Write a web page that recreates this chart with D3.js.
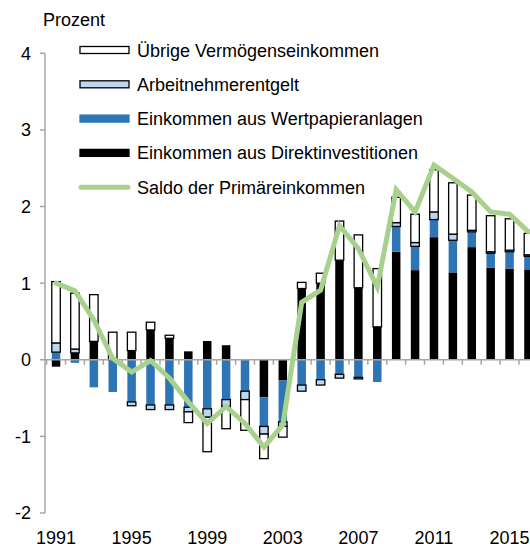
<!DOCTYPE html>
<html>
<head>
<meta charset="utf-8">
<script src="https://cdn.jsdelivr.net/npm/d3@7"></script>
<style>
body { margin: 0; background: #fff; }
text { font-family: "Liberation Sans", Arial, sans-serif; font-size: 18px; fill: #000; }
</style>
</head>
<body>
<svg id="chart"></svg>
<script>
var years = [1991,1992,1993,1994,1995,1996,1997,1998,1999,2000,2001,2002,2003,
             2004,2005,2006,2007,2008,2009,2010,2011,2012,2013,2014,2015,2016];
var direkt =     [-0.09,0.09,0.24,0,0.12,0.39,0.28,0.11,0.245,0.19,0,-0.49,-0.27,
                  0.93,1.00,1.30,0.94,0.43,1.41,1.17,1.60,1.14,1.47,1.20,1.19,1.18];
var wertpapier = [0.10,-0.04,-0.36,-0.42,-0.55,-0.59,-0.59,-0.62,-0.64,-0.52,-0.41,-0.38,-0.54,
                  -0.33,-0.26,-0.19,-0.23,-0.29,0.33,0.31,0.23,0.42,0.20,0.19,0.22,0.17];
var arbeit =     [0.12,0.05,0,0,-0.05,-0.06,-0.06,-0.06,-0.11,-0.09,-0.11,-0.10,-0.06,
                  -0.08,-0.07,-0.05,-0.02,0,0.05,0.05,0.10,0.08,0.02,0.02,0.02,0.02];
var uebrige =    [0.80,0.73,0.61,0.36,0.24,0.10,0.04,-0.14,-0.45,-0.29,-0.40,-0.32,-0.14,
                  0.08,0.13,0.51,0.69,0.76,0.33,0.37,0.55,0.67,0.46,0.47,0.41,0.28];
var saldo =      [1.00,0.90,0.52,0.02,-0.16,-0.01,-0.24,-0.55,-0.83,-0.61,-0.83,-1.14,-0.85,
                  0.75,0.91,1.75,1.45,0.95,2.22,1.93,2.54,2.37,2.19,1.93,1.90,1.67];
var yTicks = [-2,-1,0,1,2,3,4];
var xLabels = [1991,1995,1999,2003,2007,2011,2015];

var keys = ["direkt","wertpapier","arbeit","uebrige"];
var fills = {direkt:"#000000", wertpapier:"#2e75b6", arbeit:"#bdd7ee", uebrige:"#ffffff"};
var strokes = {direkt:"none", wertpapier:"none", arbeit:"#000", uebrige:"#000"};
var green = "#a9d18e", grey = "#a6a6a6";

var rows = years.map(function(y, i) {
  return {year:y, direkt:direkt[i], wertpapier:wertpapier[i], arbeit:arbeit[i], uebrige:uebrige[i]};
});
var series = d3.stack().keys(keys).offset(d3.stackOffsetDiverging)(rows);

var w = 530, h = 544;
var svg = d3.select("#chart").attr("width", w).attr("height", h);

var x = d3.scaleBand().domain(years).range([46.5, 538]).paddingInner(0.55).paddingOuter(0.28);
var y = d3.scaleLinear().domain([-2, 4]).range([513, 53.3]);

// y axis
svg.append("line")
  .attr("x1", 45).attr("x2", 45)
  .attr("y1", y(4)).attr("y2", y(-2))
  .attr("stroke", grey).attr("stroke-width", 1.5);
svg.selectAll(".ytick").data(yTicks).enter().append("line")
  .attr("x1", 40).attr("x2", 45)
  .attr("y1", function(d){ return y(d); }).attr("y2", function(d){ return y(d); })
  .attr("stroke", grey).attr("stroke-width", 1.5);
svg.selectAll(".ylab").data(yTicks).enter().append("text")
  .attr("x", 31).attr("y", function(d){ return y(d); })
  .attr("dy", "0.36em")
  .attr("text-anchor", "end")
  .text(function(d){ return d; });

// bars
svg.append("g").selectAll("g").data(series).enter().append("g")
  .attr("fill", function(s){ return fills[s.key]; })
  .attr("stroke", function(s){ return strokes[s.key]; })
  .attr("stroke-width", 1.3)
  .selectAll("rect").data(function(s){ return s; }).enter()
  .filter(function(d){ return Math.abs(d[1]-d[0]) > 0.001; })
  .append("rect")
  .attr("x", function(d){ return x(d.data.year); })
  .attr("width", x.bandwidth())
  .attr("y", function(d){ return y(Math.max(d[0], d[1])); })
  .attr("height", function(d){ return Math.abs(y(d[0]) - y(d[1])); });

// zero line with ticks between bars
svg.append("line")
  .attr("x1", 45).attr("x2", w)
  .attr("y1", y(0)).attr("y2", y(0))
  .attr("stroke", grey).attr("stroke-width", 1.5);
svg.selectAll(".xtick").data(years).enter().append("line")
  .attr("x1", function(d){ return x(d) - x.step()*x.paddingInner()/2; })
  .attr("x2", function(d){ return x(d) - x.step()*x.paddingInner()/2; })
  .attr("y1", y(0)).attr("y2", y(0) + 5)
  .attr("stroke", grey).attr("stroke-width", 1.5);

svg.selectAll(".xlab").data(xLabels).enter().append("text")
  .attr("x", function(d){ return x(d) + x.bandwidth()/2; })
  .attr("y", 544)
  .attr("text-anchor", "middle")
  .text(function(d){ return d; });

// saldo line
var line = d3.line()
  .x(function(d, i){ return x(years[i]) + x.bandwidth()/2; })
  .y(function(d){ return y(d); });
svg.append("path")
  .attr("d", line(saldo))
  .attr("fill", "none")
  .attr("stroke", green)
  .attr("stroke-width", 5)
  .attr("stroke-linecap", "round")
  .attr("stroke-linejoin", "miter");

// title
svg.append("text").attr("x", 43).attr("y", 26).text("Prozent");

// legend
var legend = [
  {label:"Übrige Vermögenseinkommen", key:"uebrige"},
  {label:"Arbeitnehmerentgelt", key:"arbeit"},
  {label:"Einkommen aus Wertpapieranlagen", key:"wertpapier"},
  {label:"Einkommen aus Direktinvestitionen", key:"direkt"},
  {label:"Saldo der Primäreinkommen", key:"saldo"}
];
var lg = svg.append("g").selectAll("g").data(legend).enter().append("g")
  .attr("transform", function(d, i){ return "translate(80," + (50 + i*34.3) + ")"; });
lg.filter(function(d){ return d.key != "saldo"; }).append("rect")
  .attr("x", 0).attr("y", -3.5).attr("width", 49).attr("height", 7)
  .attr("fill", function(d){ return fills[d.key]; })
  .attr("stroke", function(d){ return d.key == "uebrige" || d.key == "arbeit" ? "#000" : fills[d.key]; })
  .attr("stroke-width", 1.3);
lg.filter(function(d){ return d.key == "saldo"; }).append("line")
  .attr("x1", 1).attr("x2", 48).attr("y1", 0).attr("y2", 0)
  .attr("stroke", green).attr("stroke-width", 5).attr("stroke-linecap", "round");
lg.append("text")
  .attr("x", 57).attr("y", 6.5)
  .text(function(d){ return d.label; });
</script>
</body>
</html>
